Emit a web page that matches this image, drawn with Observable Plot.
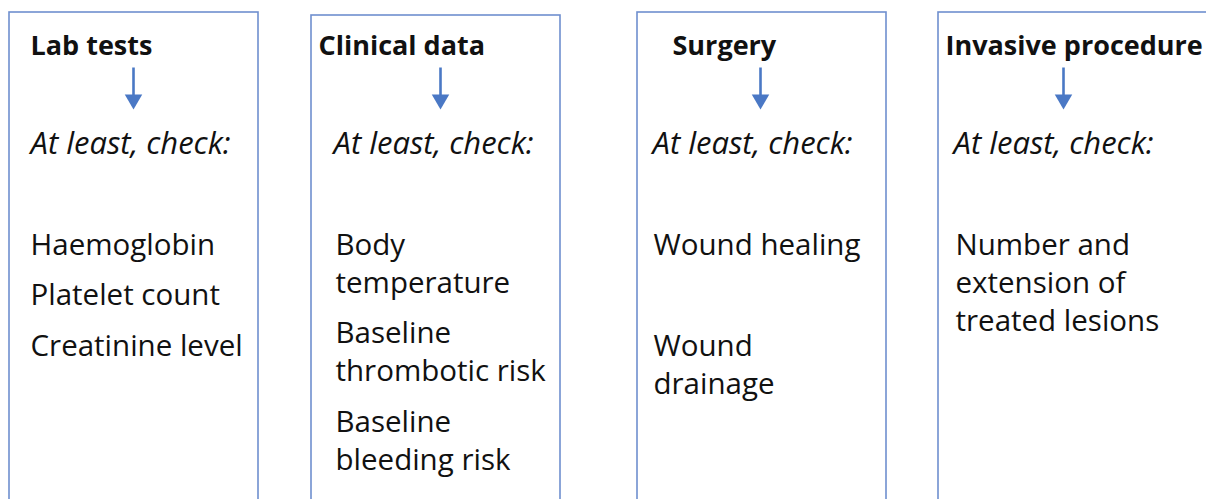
<!DOCTYPE html>
<html><head><meta charset="utf-8">
<script src="https://cdn.jsdelivr.net/npm/d3@7"></script>
<script src="https://cdn.jsdelivr.net/npm/@observablehq/plot@0.6"></script>
<style>
html,body{margin:0;padding:0;background:#fff;overflow:hidden;}
svg{display:block;font-variant-ligatures:none;}
</style>
</head><body>
<div id="chart"></div>
<script>
// Data
const columns = ["Lab tests", "Clinical data", "Surgery", "Invasive procedure"];
const prompt = "At least, check:";
const items = [
  ["Haemoglobin", "Platelet count", "Creatinine level"],
  ["Body\ntemperature", "Baseline\nthrombotic risk", "Baseline\nbleeding risk"],
  ["Wound healing", "", "Wound\ndrainage"],
  ["Number and\nextension of\ntreated lesions"]
];

// Layout
const W = 1206, H = 499;
const boxLeft = [9, 311, 637, 938];
const boxRight = [258, 560, 886, 1230];
const boxTop = [12, 15, 12, 12];
const titleX = [30, 318, 672, 945];
const promptX = [30, 333, 652, 953];
const itemX = [30, 335, 653, 955];
const arrowX = [133, 440, 760, 1063];
const lineH = 38, itemGap = 12.5, itemY0 = 245;
const FS_TITLE = 27, FS_PROMPT = 31, FS_ITEM = 29.5;
const font = "'Open Sans', sans-serif";

const boxes = columns.map((c, i) => ({c, x1: boxLeft[i], x2: boxRight[i], y1: boxTop[i], y2: H + 30}));
const titles = columns.map((c, i) => ({c, x: titleX[i], y: 46}));
const prompts = columns.map((c, i) => ({c, x: promptX[i], y: 144}));
const arrows = columns.map((c, i) => ({c, x: arrowX[i], y1: 67, y2: 96, yh: 99}));
const lines = [];
items.forEach((list, i) => {
  let y = itemY0;
  list.forEach(it => {
    const parts = it.split("\n");
    parts.forEach((p, k) => lines.push({x: itemX[i], y: y + k * lineH, t: p}));
    y += parts.length * lineH + itemGap;
  });
});

const chart = Plot.plot({
  width: W, height: H,
  margin: 0,
  x: {domain: [0, W], axis: null},
  y: {domain: [0, H], axis: null, reverse: true},
  style: {fontFamily: font, background: "#fff"},
  marks: [
    Plot.rect(boxes, {x1: "x1", x2: "x2", y1: "y1", y2: "y2", fill: "#fff", stroke: "#6f8fcf", strokeWidth: 1.6}),
    Plot.text(titles, {x: "x", y: "y", text: "c", textAnchor: "start", fontSize: FS_TITLE, fontWeight: "bold", fill: "#111"}),
    Plot.link(arrows, {x1: "x", x2: "x", y1: "y1", y2: "y2", stroke: "#4a78c5", strokeWidth: 2.6}),
    Plot.dot(arrows, {x: "x", y: "yh", symbol: "triangle", rotate: 180, r: 6.5, fill: "#4a78c5", stroke: "none"}),
    Plot.text(prompts, {x: "x", y: "y", text: () => prompt, textAnchor: "start", fontSize: FS_PROMPT, fontStyle: "italic", fill: "#111"}),
    Plot.text(lines, {x: "x", y: "y", text: "t", textAnchor: "start", fontSize: FS_ITEM, fill: "#111"})
  ]
});
document.getElementById("chart").appendChild(chart);
</script>
</body></html>
